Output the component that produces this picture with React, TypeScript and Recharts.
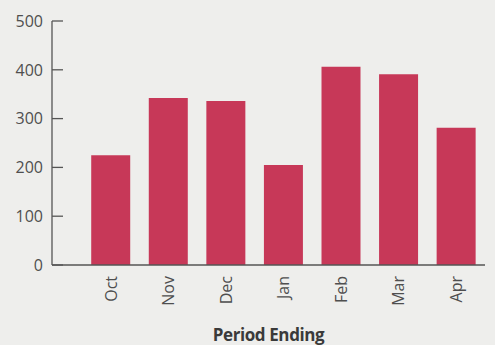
import { Bar, BarChart, XAxis, YAxis } from "recharts";

const months = ["Oct", "Nov", "Dec", "Jan", "Feb", "Mar", "Apr"];
const counts = [225, 342, 336, 205, 406, 391, 281];
const yTicks = [0, 100, 200, 300, 400, 500];

const data = months.map((month, i) => ({ month, count: counts[i] }));

const FONT = "'Open Sans', sans-serif";
const TEXT = "#4f4f4f";

function YTick(props: any) {
  const { x, y, payload } = props;
  return (
    <g>
      <line x1={x + 9} x2={x + 20} y1={y} y2={y} stroke="#555" strokeWidth={1.3} />
      <text x={x} y={y} dy="0.36em" textAnchor="end" fill={TEXT} fontSize={16} fontFamily={FONT}>
        {payload.value}
      </text>
    </g>
  );
}

function XTick(props: any) {
  const { x, y, payload } = props;
  return (
    <text
      x={x}
      y={y}
      dy="0.36em"
      textAnchor="end"
      transform={`rotate(-90, ${x}, ${y})`}
      fill={TEXT}
      fontSize={16}
      fontFamily={FONT}
    >
      {payload.value}
    </text>
  );
}

export default function App() {
  return (
    <div style={{ position: "absolute", left: 0, top: 0, width: 495, height: 345, background: "#eeeeec" }}>
      <BarChart
        width={495}
        height={345}
        data={data}
        margin={{ top: 21, right: 10, bottom: 0, left: 0 }}
        barCategoryGap="16%"
      >
        <XAxis
          dataKey="month"
          height={80}
          padding={{ left: 30, right: 0 }}
          tickLine={false}
          tickSize={0}
          tickMargin={11}
          tick={<XTick />}
          axisLine={{ stroke: "#555", strokeWidth: 1.3 }}
          interval={0}
          label={{
            value: "Period Ending",
            position: "insideBottom",
            offset: 4,
            fill: "#3a3a3a",
            fontSize: 17,
            fontWeight: 700,
            letterSpacing: -0.4,
            fontFamily: FONT,
          }}
        />
        <YAxis
          width={52}
          domain={[0, 500]}
          ticks={yTicks}
          tickLine={false}
          tickSize={0}
          tickMargin={9}
          tick={<YTick />}
          axisLine={{ stroke: "#555", strokeWidth: 1.3 }}
        />
        <Bar dataKey="count" fill="#c73858" isAnimationActive={false} />
      </BarChart>
    </div>
  );
}
